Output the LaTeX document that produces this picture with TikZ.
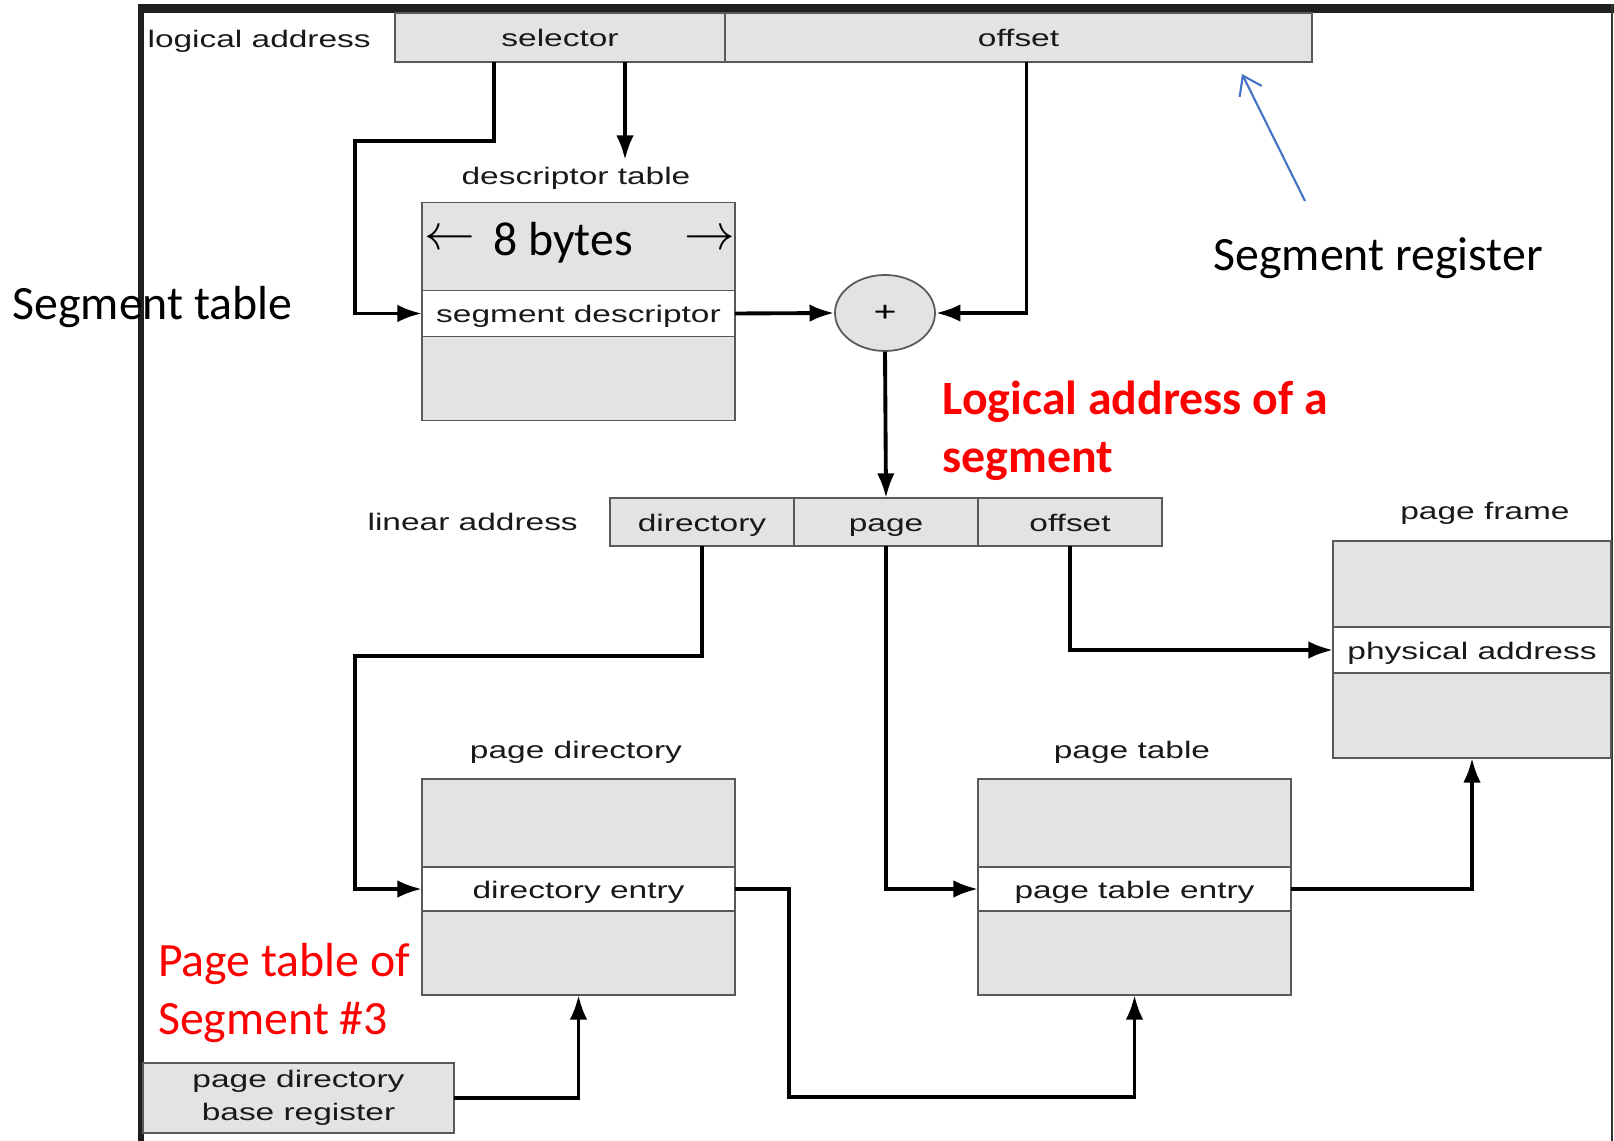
\documentclass[tikz,border=0pt]{standalone}
\usepackage{fontspec}
\usetikzlibrary{positioning,shapes.geometric,arrows.meta}
\newfontfamily\figfont[FakeStretch=1.4]{Liberation Sans}
\newfontfamily\notefont{Carlito}
\definecolor{regblue}{RGB}{68,114,196}
\newcommand\figsize{\fontsize{6.8}{9.4}\selectfont}
\newcommand\notesize{\fontsize{13.6}{16.4}\selectfont}

\begin{document}
\begin{tikzpicture}[
  box/.style={draw=black!65, fill=black!11, line width=0.5pt, inner sep=0pt,
    outer sep=0pt, font=\figfont\figsize, text=black!90},
  cell/.style={box, text height=0.73em, text depth=0.21em},
  entry/.style={cell, fill=white},
  lbl/.style={font=\figfont\figsize, text=black!90, inner sep=1pt},
  note/.style={font=\notefont\notesize, inner sep=0pt},
  wire/.style={line width=1.1pt, -{Latex[length=7pt,width=5pt]}},
  regline/.style={draw=regblue, line width=0.6pt, -{Straight Barb[length=5pt,width=7pt]}}
]
  \useasboundingbox (0,0) rectangle (16.14,-11.41);

  % Outer frame.
  \draw[line width=2.6pt, black!88] (1.38,-0.085) -- (16.14,-0.085);
  \draw[line width=1.5pt, black!88] (1.41,-0.04) -- (1.41,-11.41);
  \draw[line width=0.8pt, black!80] (16.12,-0.04) -- (16.12,-11.41);

  % Logical address.
  \node[cell, minimum width=3.30cm, minimum height=0.49cm, anchor=north west] (sel) at (3.95,-0.13) {selector};
  \node[cell, minimum width=5.87cm, minimum height=0.49cm, right=0pt of sel] (loff) {offset};
  \node[lbl, left=0.2cm of sel, yshift=-0.04cm] (logLbl) {logical address};

  % Table entries.
  \node[entry, minimum width=3.13cm, minimum height=0.46cm] (dtEntry) at (5.785,-3.135) {segment descriptor};
  \node[entry, minimum width=3.13cm, minimum height=0.44cm] (pdEntry) at (5.785,-8.89) {directory entry};
  \node[entry, minimum width=3.13cm, minimum height=0.44cm] (ptEntry) at (11.345,-8.89) {page table entry};
  \node[entry, minimum width=2.78cm, minimum height=0.46cm] (pfEntry) at (14.72,-6.50) {physical address};

  % Gray parts above and below each entry.
  \foreach \tb in {dt,pd,pt}{
    \node[box, minimum width=3.13cm, minimum height=0.88cm, above=0pt of \tb Entry] (\tb Top) {};
    \node[box, minimum width=3.13cm, minimum height=0.84cm, below=0pt of \tb Entry] (\tb Bot) {};
  }
  \node[box, minimum width=2.78cm, minimum height=0.86cm, above=0pt of pfEntry] (pfTop) {};
  \node[box, minimum width=2.78cm, minimum height=0.85cm, below=0pt of pfEntry] (pfBot) {};

  \node[lbl] (dtLbl) at (5.76,-1.78) {descriptor table};
  \node[lbl] (pdLbl) at (5.76,-7.52) {page directory};
  \node[lbl] (ptLbl) at (11.32,-7.52) {page table};
  \node[lbl] (pfLbl) at (14.85,-5.13) {page frame};

  \node[note] (bytes) at (5.63,-2.43) {8 bytes};
  \node[note] (bytesL) at (4.50,-2.40) {$\leftarrow$};
  \node[note] (bytesR) at (7.10,-2.40) {$\rightarrow$};

  % Adder.
  \node[ellipse, draw=black!65, fill=black!11, line width=0.5pt, minimum width=1.0cm,
    minimum height=0.76cm, inner sep=0pt, font=\figfont\fontsize{8}{9}\selectfont] (sum) at (8.85,-3.13) {+};

  % Linear address.
  \foreach \nm/\txt [count=\i from 0] in {ldir/directory,lpage/page,loffs/offset}
    \node[cell, minimum width=1.84cm, minimum height=0.48cm, anchor=north west] (\nm) at ({6.10+1.84*\i},-4.98) {\txt};
  \node[lbl, left=0.28cm of ldir] (linLbl) {linear address};

  \node[box, minimum width=3.11cm, minimum height=0.70cm, align=center] (pdbr) at (2.985,-10.98) {page directory\\base register};

  % Connectors.
  \draw[wire] ([xshift=-0.66cm]sel.south) |- ++(-1.39,-0.79) |- (dtEntry.west);
  \draw[wire] ([xshift=0.65cm]sel.south) -- ++(0,-0.98);
  \draw[wire] (dtEntry.east) -- (sum.west);
  \draw[wire] ([xshift=0.08cm]loff.south) |- (sum.east);
  \draw[wire] (sum.south) -- (lpage.north);
  \draw[wire] (ldir.south) |- ++(-3.47,-1.10) |- (pdEntry.west);
  \draw[wire] (lpage.south) |- (ptEntry.west);
  \draw[wire] (loffs.south) |- (pfEntry.west);
  \draw[wire] (pdEntry.east) -- ++(0.54,0) |- ([yshift=-1.02cm]ptBot.south) -- (ptBot.south);
  \draw[wire] (ptEntry.east) -| (pfBot.south);
  \draw[wire] (pdbr.east) -| (pdBot.south);

  % Notes.
  \node[note, anchor=west] (segTbl) at (0.12,-3.07) {Segment table};
  \node[note, anchor=west] (segReg) at (12.13,-2.58) {Segment register};
  \coordinate (regFoot) at (13.05,-2.01);
  \coordinate (regTip) at (12.42,-0.74);
  \draw[regline] (regFoot) -- (regTip);
  \node[note, text=red, font=\notefont\notesize\bfseries, align=left, anchor=west] (laNote) at (9.42,-4.31) {Logical address of a\\segment};
  \node[note, text=red, align=left, anchor=west] (ptNote) at (1.575,-9.93) {Page table of\\Segment \#3};
\end{tikzpicture}
\end{document}
